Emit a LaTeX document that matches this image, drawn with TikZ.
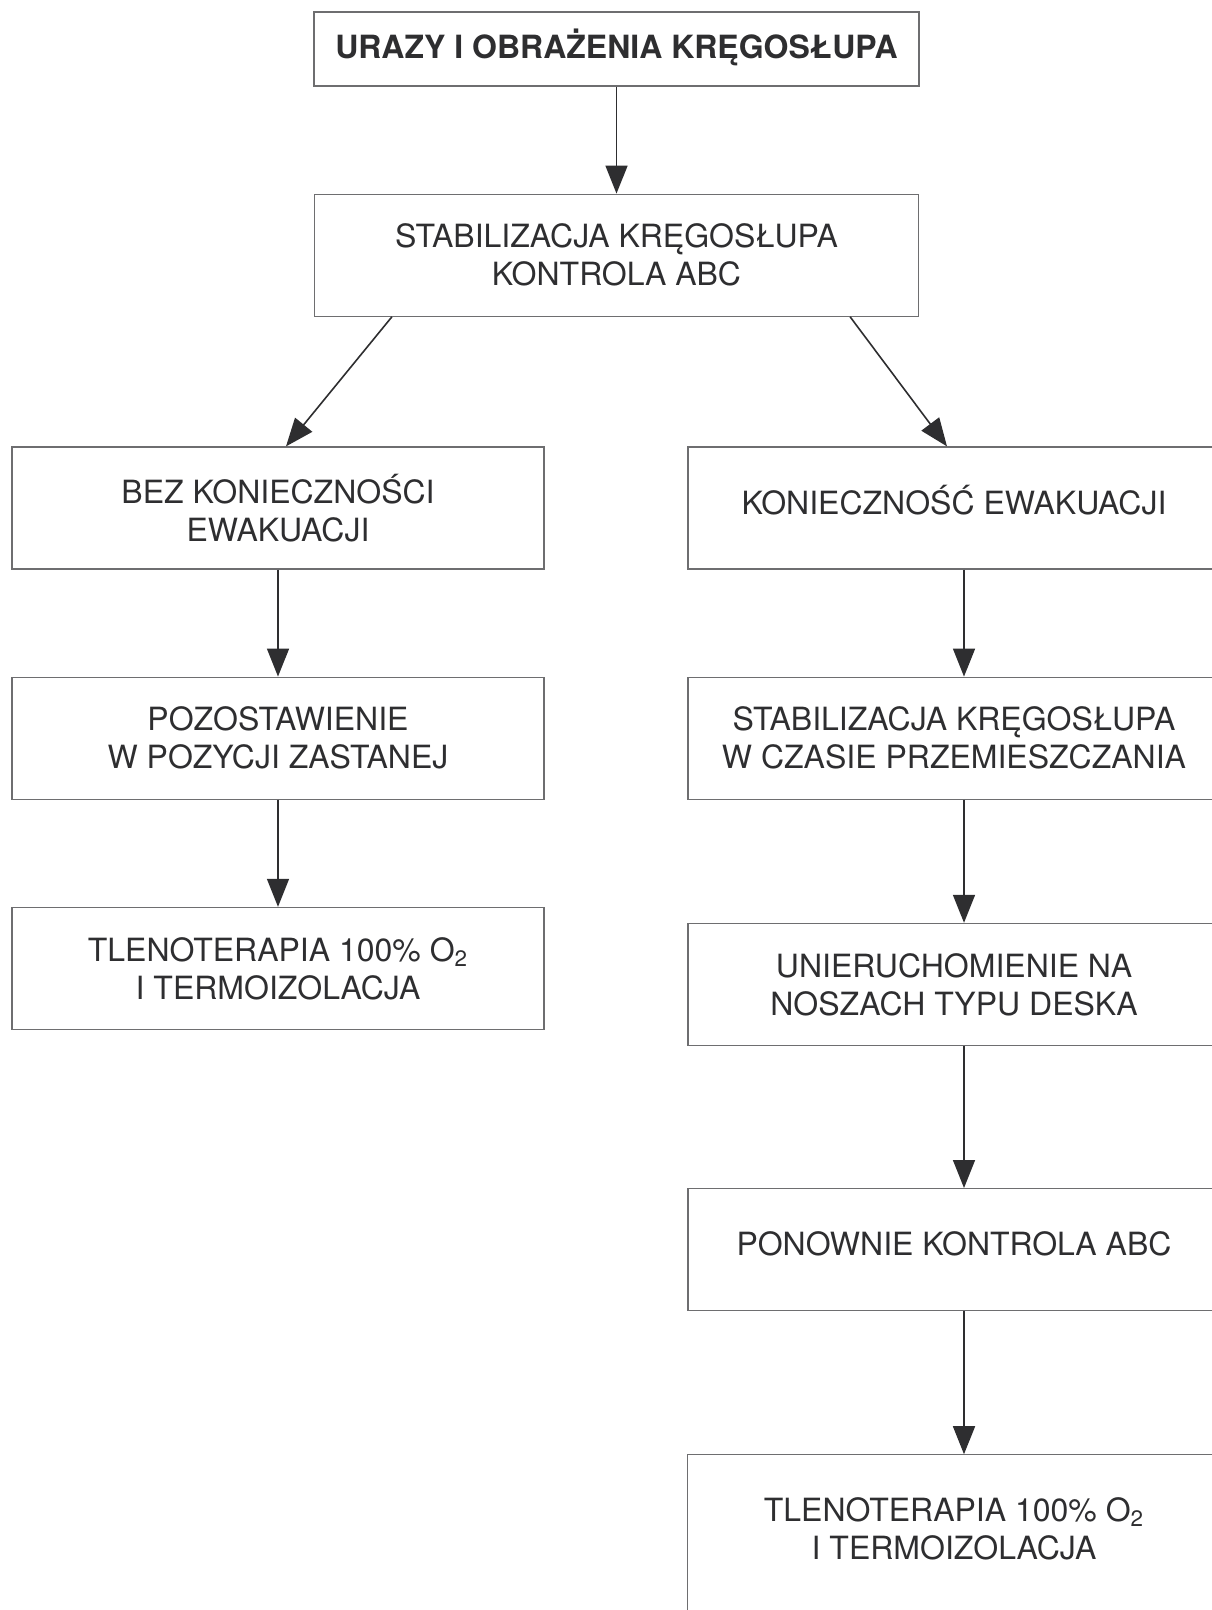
\documentclass[tikz,border=0pt]{standalone}
\usepackage{fontspec}
\setmainfont{TeX Gyre Heros}
\usetikzlibrary{arrows.meta, positioning}
\definecolor{inkgray}{HTML}{2E2E30}
\definecolor{framegray}{HTML}{6E6E70}

\begin{document}
\begin{tikzpicture}[
        x=0.5pt, y=-0.5pt,
        step_box/.style={
            draw=framegray, line width=0.6pt, rectangle, minimum width=266pt, minimum height=61pt,
            align=center, font=\fontsize{16}{19}\selectfont, text=inkgray, inner sep=0pt
        },
        title_box/.style={
            step_box, minimum width=302.5pt, minimum height=37pt, font=\bfseries\fontsize{16}{19}\selectfont
        },
        flow_arrow/.style={
            draw=inkgray, line width=0.8pt, -{Triangle[length=14pt, width=11pt]}
        }
    ]
    \useasboundingbox (0,0) rectangle (1211,1610);

    % Top of the chart
    \node[title_box] (urazy) at (616.5,49) {\raisebox{5pt}{URAZY I OBRAŻENIA KRĘGOSŁUPA}};
    \node[step_box, minimum width=302pt, below=53.5pt of urazy] (stab) {STABILIZACJA KRĘGOSŁUPA\\KONTROLA ABC};

    % Left branch
    \node[step_box] (bez) at (278,508) {BEZ KONIECZNOŚCI\\EWAKUACJI};
    \node[step_box, below=53.5pt of bez] (pozost) {POZOSTAWIENIE\\W POZYCJI ZASTANEJ};
    \node[step_box, below=53.5pt of pozost] (tlen) {TLENOTERAPIA 100\% O\textsubscript{2}\\I TERMOIZOLACJA};

    % Right branch
    \node[step_box] (kon) at (954,508) {\raisebox{8pt}{KONIECZNOŚĆ EWAKUACJI}};
    \node[step_box, below=53.5pt of kon] (stabprz) {STABILIZACJA KRĘGOSŁUPA\\W CZASIE PRZEMIESZCZANIA};
    \node[step_box, below=61.5pt of stabprz] (unier) {UNIERUCHOMIENIE NA\\NOSZACH TYPU DESKA};
    \node[step_box, below=71pt of unier] (ponow) {\raisebox{6.5pt}{PONOWNIE KONTROLA ABC}};
    \node[step_box, draw=none, minimum height=74pt, below=71.5pt of ponow] (tlenb) {TLENOTERAPIA 100\% O\textsubscript{2}\\I TERMOIZOLACJA};
    \draw[framegray, line width=0.6pt] ([yshift=-30pt]tlenb.south west) -- (tlenb.north west) -- (tlenb.north east) -- ([yshift=-30pt]tlenb.south east);

    % Arrows
    \draw[flow_arrow] (urazy) -- (stab);
    \draw[flow_arrow] ([xshift=39pt]stab.south west) -- ([xshift=4pt]bez.north);
    \draw[flow_arrow] ([xshift=-34.5pt]stab.south east) -- ([xshift=-3.5pt]kon.north);
    \draw[flow_arrow] (bez) -- (pozost);
    \draw[flow_arrow] (pozost) -- (tlen);
    \draw[flow_arrow] ([xshift=5pt]kon.south) -- ([xshift=5pt]stabprz.north);
    \draw[flow_arrow] ([xshift=5pt]stabprz.south) -- ([xshift=5pt]unier.north);
    \draw[flow_arrow] ([xshift=5pt]unier.south) -- ([xshift=5pt]ponow.north);
    \draw[flow_arrow] ([xshift=5pt]ponow.south) -- ([xshift=5pt]tlenb.north);

\end{tikzpicture}
\end{document}
